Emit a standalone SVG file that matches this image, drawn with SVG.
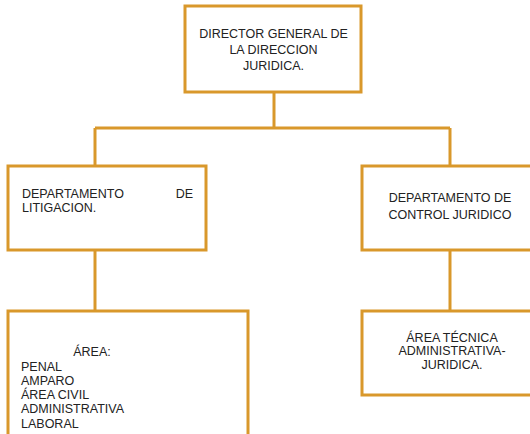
<svg xmlns="http://www.w3.org/2000/svg" width="530" height="434" viewBox="0 0 530 434">
  <style>
    .box { fill: #ffffff; stroke: #D9982B; stroke-width: 3; }
    .link { fill: none; stroke: #D9982B; stroke-width: 3; }
    text { font-family: "Liberation Sans", Arial, sans-serif; font-size: 12.5px; fill: #222222; }
    .c { text-anchor: middle; }
    .e { text-anchor: end; }
  </style>
  <rect width="530" height="434" fill="#ffffff"/>

  <!-- connectors -->
  <g id="connectors">
    <path class="link" d="M274 92 V128"/>
    <path class="link" d="M95 128 H450"/>
    <path class="link" d="M95 128 V166"/>
    <path class="link" d="M450 128 V166"/>
    <path class="link" d="M95 250 V311"/>
    <path class="link" d="M450 250 V311"/>
  </g>

  <!-- top: general director -->
  <g id="director">
    <rect class="box" x="185" y="6" width="176" height="86"/>
    <text class="c" x="273.5" y="38">DIRECTOR GENERAL DE</text>
    <text class="c" x="273.5" y="54">LA DIRECCION</text>
    <text class="c" x="273.5" y="69.5">JURIDICA.</text>
  </g>

  <!-- litigation department -->
  <g id="litigacion">
    <rect class="box" x="8" y="166" width="198" height="84"/>
    <text x="22" y="197.5">DEPARTAMENTO</text>
    <text class="e" x="193" y="197.5">DE</text>
    <text x="22" y="212">LITIGACION.</text>
  </g>

  <!-- legal control department -->
  <g id="control">
    <rect class="box" x="362" y="166" width="176" height="84"/>
    <text class="c" x="450" y="202">DEPARTAMENTO DE</text>
    <text class="c" x="450" y="218.5">CONTROL JURIDICO</text>
  </g>

  <!-- areas under litigation -->
  <g id="areas">
    <rect class="box" x="8" y="311" width="240" height="140"/>
    <text class="c" x="92" y="356">ÁREA:</text>
    <text x="21" y="370.5">PENAL</text>
    <text x="21" y="384.5">AMPARO</text>
    <text x="21" y="398.5">ÁREA CIVIL</text>
    <text x="21" y="413">ADMINISTRATIVA</text>
    <text x="21" y="427.5">LABORAL</text>
  </g>

  <!-- technical area under control -->
  <g id="tecnica">
    <rect class="box" x="362" y="311" width="176" height="84"/>
    <text class="c" x="452" y="341.5">ÁREA TÉCNICA</text>
    <text class="c" x="452" y="355">ADMINISTRATIVA-</text>
    <text class="c" x="452" y="368.5">JURIDICA.</text>
  </g>
</svg>
